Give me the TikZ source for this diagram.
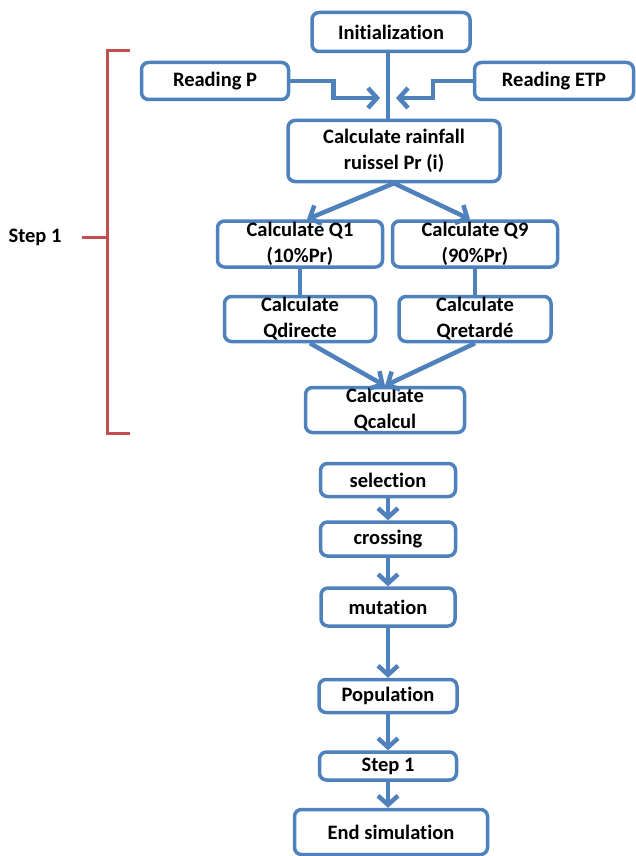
\documentclass[tikz,border=0pt]{standalone}
\usepackage{fontspec}
\setmainfont{Carlito}[Ligatures=NoCommon]
\usetikzlibrary{arrows.meta}
\definecolor{boxblue}{RGB}{79,129,189}
\definecolor{brred}{RGB}{192,80,77}
\tikzset{
  box/.style={draw=boxblue,line width=3.5pt,rounded corners=7pt,fill=white,align=center,
    font=\fontsize{20.5}{26}\selectfont\bfseries,inner sep=1pt},
  conn/.style={draw=boxblue,line width=4.5pt},
  arr/.style={conn,-{Straight Barb[length=9pt,width=20pt]}},
  brace/.style={draw=brred,line width=3pt},
}
\begin{document}
\begin{tikzpicture}[x=1pt,y=-1pt]
\useasboundingbox (0,0) rectangle (635,856);
% first part
\node[box,minimum width=158pt,minimum height=39pt] (init) at (391,32) {Initialization};
\node[box,minimum width=147pt,minimum height=37pt] (readp) at (215,81) {Reading P};
\node[box,minimum width=159pt,minimum height=37pt] (reade) at (554,81) {Reading ETP};
\node[box,minimum width=212pt,minimum height=61pt] (rain) at (394,151) {Calculate rainfall\\ruissel Pr (i)};
\node[box,minimum width=165pt,minimum height=46pt] (q1) at (300,244) {Calculate Q1\\(10\%Pr)};
\node[box,minimum width=165pt,minimum height=46pt] (q9) at (475,244) {Calculate Q9\\(90\%Pr)};
\node[box,minimum width=151pt,minimum height=45pt] (qd) at (300,319) {Calculate\\Qdirecte};
\node[box,minimum width=152pt,minimum height=45pt] (qr) at (475,319) {Calculate\\Qretardé};
\node[box,minimum width=159pt,minimum height=45pt] (qc) at (385,410) {Calculate\\Qcalcul};
\coordinate (jp) at (380,98);
\coordinate (je) at (396,98);
\draw[conn] ([xshift=-3pt]init.south) -- ([xshift=-3pt]init.south |- rain.north);
\draw[arr] (readp.east) -- ++(43,0) |- (jp);
\draw[arr] (reade.west) -- ++(-40,0) |- (je);
\draw[arr] (rain.south) -- ([xshift=7pt]q1.north);
\draw[arr] (rain.south) -- ([xshift=-5pt]q9.north);
\draw[conn] (q1.south) -- (qd.north);
\draw[conn] (q9.south) -- (qr.north);
\draw[arr] ([xshift=10pt]qd.south) -- (qc.north);
\draw[arr] (qr.south) -- (qc.north);
% bracket
\draw[brace] (130,51) -- (107,51) -- (107,433) -- (130,433);
\node[font=\fontsize{20.5}{26}\selectfont\bfseries] (step) at (35,237) {Step 1};
\draw[brace] (82,237) -- (107,237);
% second part
\node[box,minimum width=135pt,minimum height=33pt] (sel) at (388,480) {selection};
\node[box,minimum width=135pt,minimum height=34pt] (cross) at (388,539) {crossing};
\node[box,minimum width=134pt,minimum height=38pt] (mut) at (388,607) {mutation};
\node[box,minimum width=138pt,minimum height=33pt] (pop) at (388,696) {Population};
\node[box,minimum width=137pt,minimum height=28pt] (st) at (388,766) {Step 1};
\node[box,minimum width=193pt,minimum height=45pt] (endsim) at (391,832) {End simulation};
\draw[arr] (sel) -- (cross);
\draw[arr] (cross) -- (mut);
\draw[arr] (mut) -- (pop);
\draw[arr] (pop) -- (st);
\draw[arr] (st.south) -- (st.south |- endsim.north);
\end{tikzpicture}
\end{document}
